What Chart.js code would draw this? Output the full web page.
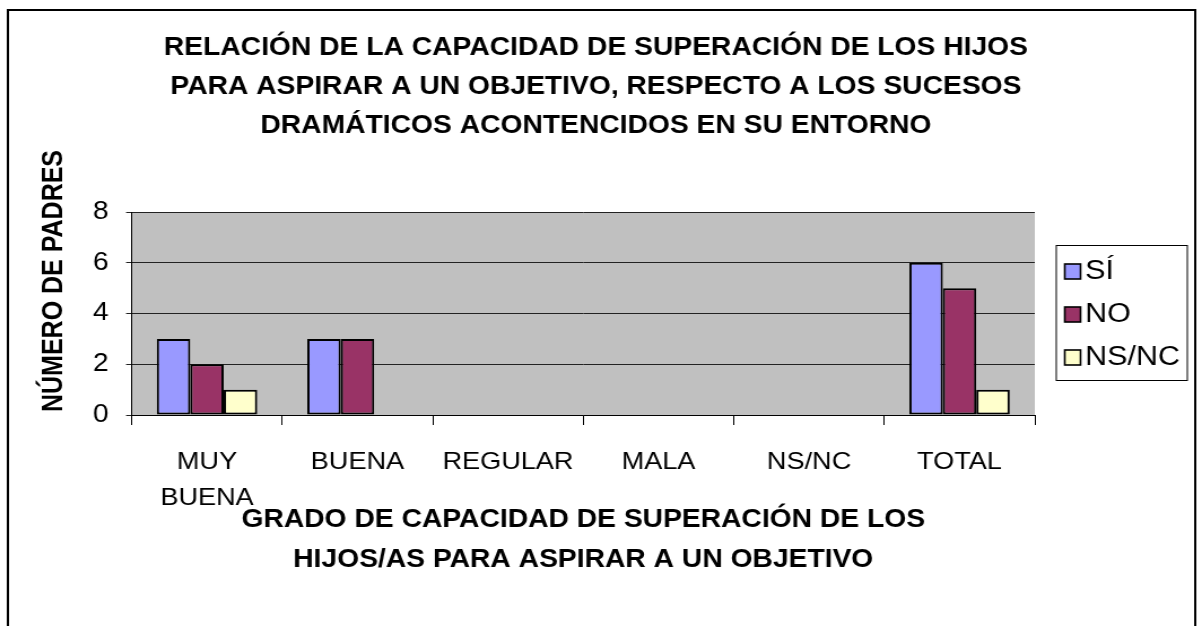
<!DOCTYPE html>
<html>
<head>
<meta charset="utf-8">
<script src="https://cdn.jsdelivr.net/npm/chart.js@4/dist/chart.umd.min.js"></script>
<style>
  html, body { margin: 0; padding: 0; background: #fff; }
</style>
</head>
<body>
<!-- the original picture is stretched sideways, so the canvas is drawn narrower and widened by css -->
<canvas id="chart" width="1064" height="626" style="width:1202px;height:626px;display:block"></canvas>
<script>
const categories = [['MUY', 'BUENA'], 'BUENA', 'REGULAR', 'MALA', 'NS/NC', 'TOTAL'];
const siValues = [3, 3, 0, 0, 0, 6];
const noValues = [2, 3, 0, 0, 0, 5];
const nsncValues = [1, 0, 0, 0, 0, 1];
const yTicks = [0, 2, 4, 6, 8];

const titleLines = [
    'RELACIÓN DE LA CAPACIDAD DE SUPERACIÓN DE LOS HIJOS',
    'PARA ASPIRAR A UN OBJETIVO, RESPECTO A LOS SUCESOS',
    'DRAMÁTICOS ACONTENCIDOS EN SU ENTORNO'
];
const xTitle = ['GRADO DE CAPACIDAD DE SUPERACIÓN DE LOS', 'HIJOS/AS PARA ASPIRAR A UN OBJETIVO'];
const yTitle = 'NÚMERO DE PADRES';

const FONT = 'Arial, "Liberation Sans", sans-serif';

// gray plot area, outer frame, titles and the boxed legend
const excelLook = {
    id: 'excelLook',
    beforeDraw(chart) {
        const { ctx, chartArea: a } = chart;
        ctx.save();
        ctx.fillStyle = '#fff';
        ctx.fillRect(0, 0, chart.width, chart.height);
        ctx.fillStyle = '#c0c0c0';
        ctx.fillRect(a.left, a.top, a.right - a.left, a.bottom - a.top);
        ctx.restore();
    },
    afterDraw(chart) {
        const { ctx, chartArea: a } = chart;
        ctx.save();
        // frame
        ctx.strokeStyle = '#000';
        ctx.lineWidth = 2;
        ctx.strokeRect(7, 10, 1051, 640);

        // main title, centred on the whole frame
        ctx.fillStyle = '#000';
        ctx.font = 'bold 25px ' + FONT;
        ctx.textAlign = 'center';
        ctx.textBaseline = 'middle';
        titleLines.forEach((line, i) => ctx.fillText(line, 527.5, 48 + i * 39));

        // y title
        ctx.translate(48, 281);
        ctx.rotate(-Math.PI / 2);
        ctx.fillText(yTitle, 0, 0);
        ctx.setTransform(1, 0, 0, 1, 0, 0);

        // legend
        const lx = a.right + 18.5, ly = 245, lw = 116, lh = 135;
        ctx.fillStyle = '#fff';
        ctx.fillRect(lx, ly, lw, lh);
        ctx.strokeStyle = '#000';
        ctx.lineWidth = 1;
        ctx.strokeRect(lx + 0.5, ly + 0.5, lw, lh);
        ctx.font = '27px ' + FONT;
        ctx.textAlign = 'left';
        chart.data.datasets.forEach((ds, i) => {
            const cy = 271 + i * 43;
            ctx.fillStyle = ds.backgroundColor;
            ctx.fillRect(lx + 8, cy - 7, 14, 15);
            ctx.strokeStyle = '#000';
            ctx.lineWidth = 1.6;
            ctx.strokeRect(lx + 8, cy - 7, 14, 15);
            ctx.fillStyle = '#000';
            ctx.fillText(ds.label, lx + 26, cy + 1);
        });
        ctx.restore();
    }
};

new Chart(document.getElementById('chart'), {
    type: 'bar',
    data: {
        labels: categories,
        datasets: [
            { label: 'SÍ', data: siValues, backgroundColor: '#9999ff' },
            { label: 'NO', data: noValues, backgroundColor: '#993366' },
            { label: 'NS/NC', data: nsncValues, backgroundColor: '#ffffcc' }
        ].map(ds => Object.assign(ds, {
            borderColor: '#000',
            borderWidth: 2,
            borderSkipped: false,
            categoryPercentage: 0.667,
            barPercentage: 1
        }))
    },
    options: {
        responsive: false,
        animation: false,
        layout: { padding: { top: 212, left: 66.7, right: 148, bottom: 46 } },
        plugins: {
            legend: { display: false },
            tooltip: { enabled: false },
            title: { display: false }
        },
        scales: {
            x: {
                // fixed height: tick labels hang from the top, the title sits on the bottom
                afterFit(scale) {
                    scale.height = 165;
                },
                grid: {
                    offset: true,
                    drawOnChartArea: false,
                    drawTicks: true,
                    tickLength: 10,
                    color: '#000'
                },
                border: { color: '#000', width: 1 },
                ticks: {
                    color: '#000',
                    font: { family: FONT, size: 24, lineHeight: 1.52 },
                    padding: 19,
                    maxRotation: 0,
                    autoSkip: false
                },
                title: {
                    display: true,
                    text: xTitle,
                    color: '#000',
                    font: { family: FONT, size: 25, weight: 'bold', lineHeight: 1.6 },
                    padding: 0
                }
            },
            y: {
                min: 0,
                max: 8,
                afterBuildTicks(scale) {
                    scale.ticks = yTicks.map(v => ({ value: v }));
                },
                grid: {
                    color: '#222',
                    lineWidth: 1,
                    tickLength: 5
                },
                border: { color: '#000', width: 1 },
                ticks: {
                    color: '#000',
                    font: { family: FONT, size: 25 },
                    padding: 15.5
                }
            }
        }
    },
    plugins: [excelLook]
});
</script>
</body>
</html>
